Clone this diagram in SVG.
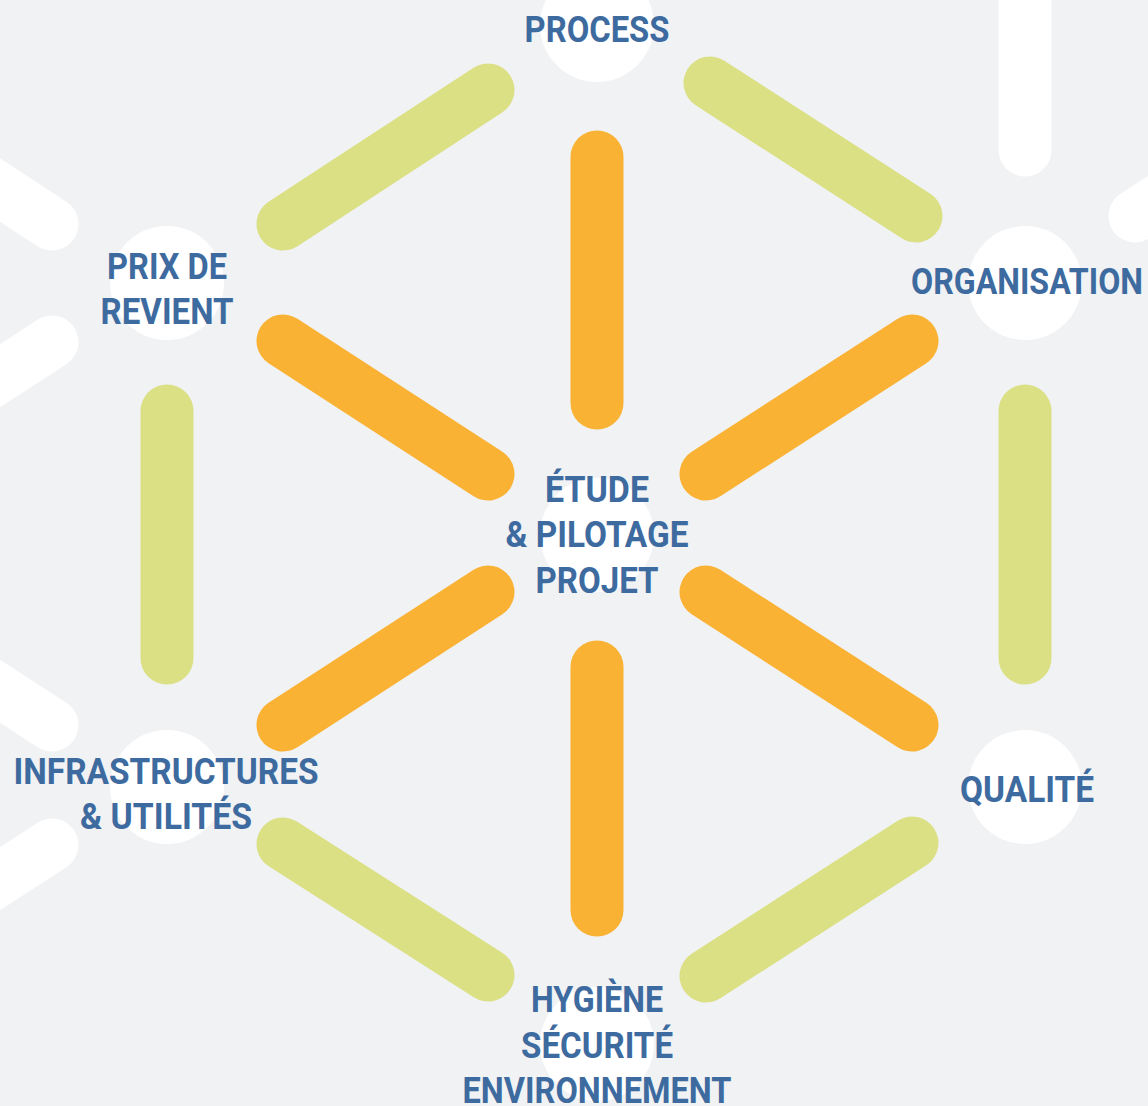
<svg xmlns="http://www.w3.org/2000/svg" width="1148" height="1106" viewBox="0 0 1148 1106">
<style>
.bg{fill:#f1f2f4}
.c{fill:#ffffff}
line{stroke-width:53;stroke-linecap:round;fill:none}
.o{stroke:#f9b234}
.g{stroke:#dbe085}
.w{stroke:#ffffff}
text{font-family:Roboto,"Liberation Sans",sans-serif;font-weight:700;font-size:37px;fill:#3e6b9f;text-anchor:middle}
</style>
<rect class="bg" x="0" y="0" width="1148" height="1106"/>
<g id="decor">
<line class="w" x1="1025" y1="-60" x2="1025" y2="150"/>
<line class="w" x1="1135" y1="216" x2="1340" y2="83"/>
<line class="w" x1="52" y1="224" x2="-153" y2="90"/>
<line class="w" x1="52" y1="342" x2="-153" y2="475"/>
<line class="w" x1="52" y1="725" x2="-153" y2="592"/>
<line class="w" x1="52" y1="845" x2="-153" y2="978"/>
</g>
<g id="node-circles">
<circle class="c" cx="597" cy="25" r="57"/>
<circle class="c" cx="1025" cy="283" r="57"/>
<circle class="c" cx="167" cy="283" r="57"/>
<circle class="c" cx="597" cy="535" r="57"/>
<circle class="c" cx="167" cy="787" r="57"/>
<circle class="c" cx="1025" cy="787" r="57"/>
<circle class="c" cx="597" cy="1044" r="57"/>
</g>
<g id="connectors">
<line class="g" x1="283" y1="224" x2="488" y2="90"/>
<line class="g" x1="710" y1="83" x2="916" y2="216"/>
<line class="g" x1="167" y1="411" x2="167" y2="658"/>
<line class="g" x1="1025" y1="411" x2="1025" y2="658"/>
<line class="g" x1="283" y1="844" x2="488" y2="975"/>
<line class="g" x1="706" y1="976" x2="912" y2="843"/>
<line class="o" x1="597" y1="157" x2="597" y2="403"/>
<line class="o" x1="597" y1="667" x2="597" y2="910"/>
<line class="o" x1="283" y1="341" x2="488" y2="474"/>
<line class="o" x1="912" y1="341" x2="706" y2="474"/>
<line class="o" x1="488" y1="592" x2="283" y2="725"/>
<line class="o" x1="706" y1="592" x2="912" y2="725"/>
</g>
<g id="node-process"><text x="597" y="42" textLength="145" lengthAdjust="spacingAndGlyphs">PROCESS</text></g>
<g id="node-organisation"><text x="1027" y="294" textLength="232" lengthAdjust="spacingAndGlyphs">ORGANISATION</text></g>
<g id="node-prix">
<text x="167" y="279" textLength="120" lengthAdjust="spacingAndGlyphs">PRIX DE</text>
<text x="167" y="324" textLength="133" lengthAdjust="spacingAndGlyphs">REVIENT</text>
</g>
<g id="node-etude">
<text x="597" y="502" textLength="104" lengthAdjust="spacingAndGlyphs">ÉTUDE</text>
<text x="597" y="547" textLength="183" lengthAdjust="spacingAndGlyphs">&amp; PILOTAGE</text>
<text x="597" y="593" textLength="123" lengthAdjust="spacingAndGlyphs">PROJET</text>
</g>
<g id="node-infra">
<text x="166" y="784" textLength="305" lengthAdjust="spacingAndGlyphs">INFRASTRUCTURES</text>
<text x="166" y="829" textLength="172" lengthAdjust="spacingAndGlyphs">&amp; UTILITÉS</text>
</g>
<g id="node-qualite"><text x="1027" y="802" textLength="134" lengthAdjust="spacingAndGlyphs">QUALITÉ</text></g>
<g id="node-hse">
<text x="597" y="1012" textLength="132" lengthAdjust="spacingAndGlyphs">HYGIÈNE</text>
<text x="597" y="1058" textLength="152" lengthAdjust="spacingAndGlyphs">SÉCURITÉ</text>
<text x="597" y="1103" textLength="269" lengthAdjust="spacingAndGlyphs">ENVIRONNEMENT</text>
</g>
</svg>
